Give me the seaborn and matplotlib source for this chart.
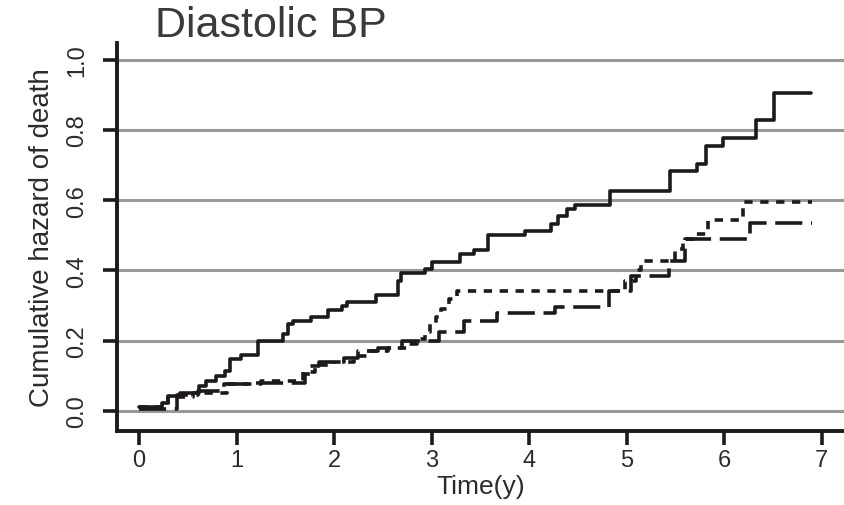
import matplotlib
matplotlib.use("Agg")
import matplotlib.pyplot as plt
import seaborn as sns
import pandas as pd

# step points (time in years, cumulative hazard)
solid_t = [0, 0.24, 0.30, 0.42, 0.61, 0.69, 0.79, 0.88, 0.93, 1.05,
           1.22, 1.48, 1.53, 1.58, 1.76, 1.94, 2.08, 2.13, 2.43, 2.66,
           2.69, 2.93, 3.0, 3.29, 3.43, 3.58, 3.96, 4.22, 4.30, 4.39,
           4.47, 4.83, 5.45, 5.72, 5.81, 5.99, 6.33, 6.51, 6.89]
solid_h = [0.011, 0.022, 0.043, 0.052, 0.07, 0.085, 0.10, 0.114, 0.147, 0.16,
           0.20, 0.22, 0.247, 0.256, 0.267, 0.288, 0.298, 0.31, 0.33, 0.37,
           0.394, 0.404, 0.425, 0.446, 0.459, 0.50, 0.511, 0.532, 0.554, 0.575,
           0.587, 0.627, 0.682, 0.703, 0.755, 0.778, 0.829, 0.905, 0.905]

dash_t = [0, 0.39, 0.6, 0.87, 1.2, 1.7, 1.75, 1.85, 2.1, 2.25,
          2.45, 2.7, 3.08, 3.33, 3.67, 4.27, 4.82, 5.05, 5.43, 5.6,
          6.27, 6.9]
dash_h = [0.005, 0.045, 0.055, 0.075, 0.08, 0.105, 0.128, 0.138, 0.15, 0.17,
          0.178, 0.2, 0.224, 0.256, 0.278, 0.297, 0.342, 0.383, 0.427, 0.489,
          0.535, 0.535]

dot_t = [0, 0.3, 0.55, 0.9, 1.25, 1.68, 1.8, 2.0, 2.2, 2.35,
         2.55, 2.75, 2.85, 2.93, 2.98, 3.05, 3.1, 3.18, 3.26, 4.98,
         5.1, 5.15, 5.5, 5.58, 5.7, 5.84, 6.19, 6.9]
dot_h = [0.011, 0.04, 0.05, 0.075, 0.085, 0.11, 0.13, 0.14, 0.155, 0.17,
         0.18, 0.19, 0.204, 0.224, 0.247, 0.267, 0.29, 0.318, 0.34, 0.37,
         0.40, 0.427, 0.46, 0.489, 0.503, 0.545, 0.595, 0.595]

x_ticks = [0, 1, 2, 3, 4, 5, 6, 7]
y_ticks = [0.0, 0.2, 0.4, 0.6, 0.8, 1.0]
y_ticklabels = ["0.0", "0.2", "0.4", "0.6", "0.8", "1.0"]

sns.set_style("white")
plt.rcParams['font.family'] = ['Liberation Sans', 'DejaVu Sans']
txt = "#2b2b2b"

fig = plt.figure(figsize=(8.45, 5.06), dpi=100)
ax = fig.add_axes([0.1385, 0.146, 0.8615, 0.767])

for y in y_ticks:
    ax.axhline(y, color="#999999", lw=2.2, zorder=1)

curves = [(solid_t, solid_h, "-"),
          (dash_t, dash_h, (0, (7.5, 2.4))),
          (dot_t, dot_h, (0, (2.3, 2.1)))]
for t, h, ls in curves:
    d = pd.DataFrame({"t": t, "h": h})
    sns.lineplot(data=d, x="t", y="h", ax=ax, color="#1e1a1b", lw=2.6,
                 linestyle=ls, drawstyle="steps-post", estimator=None,
                 sort=False, zorder=3)

ax.set_xlim(-0.226, 7.24)
ax.set_ylim(-0.058, 1.048)
ax.set_xticks(x_ticks)
ax.set_xticklabels([str(v) for v in x_ticks])
ax.set_yticks(y_ticks)
ax.set_yticklabels(y_ticklabels, rotation=90, va="center")

for s in ["top", "right"]:
    ax.spines[s].set_visible(False)
for s in ["left", "bottom"]:
    ax.spines[s].set_color("#1e1a1b")
    ax.spines[s].set_linewidth(2.8)

ax.tick_params(axis="both", direction="out", length=10, width=2.6,
               color="#1e1a1b", labelsize=17, labelcolor=txt, pad=3,
               left=True, bottom=True)
ax.tick_params(axis="y", pad=11)

ax.set_xlabel("Time(y)", fontsize=19, color=txt, labelpad=2)
ax.set_ylabel("Cumulative hazard of death", fontsize=20, color=txt, labelpad=8)

fig.text(0.183, 0.948, "Diastolic BP", fontsize=31, color="#3a3a3a",
         ha="left", va="center")

fig.savefig("out.png", dpi=100)
